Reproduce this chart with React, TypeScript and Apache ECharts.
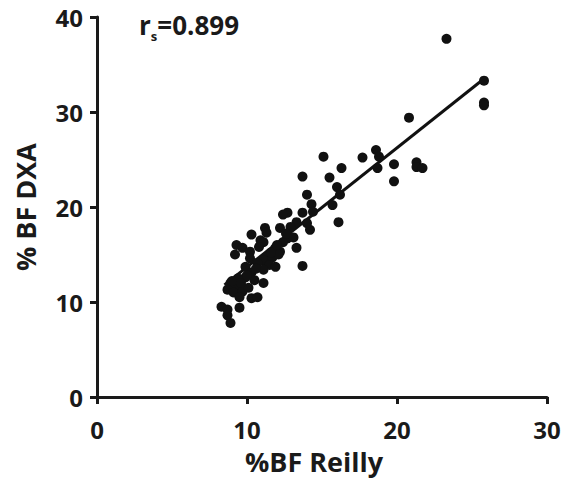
import React, { useEffect, useRef } from "react";
import * as echarts from "echarts";

const reillyBF: number[] = [
  23.3, 25.8, 25.8, 25.8, 20.8, 18.6, 18.8, 18.7, 17.7, 19.8, 19.8, 21.3, 21.3, 21.7,
  15.1, 16.3, 15.5, 16.0, 13.7, 14.0, 16.2,
  14.3, 14.4, 15.7, 16.1, 12.7, 12.4, 13.7, 13.3, 14.2, 14.0, 11.2, 11.3, 12.2, 12.9,
  10.3, 10.9, 11.1, 12.7, 13.1, 12.4, 9.3, 9.7, 9.2, 10.2, 11.9, 12.2, 13.3, 11.3,
  11.1, 11.7, 12.1, 10.2, 9.9, 10.7, 11.5, 11.9, 13.7, 11.1, 10.3, 9.9, 9.4, 10.5,
  11.1, 8.9, 8.7, 9.3, 9.1, 9.7, 10.1, 9.5, 10.3, 10.7, 8.3, 8.7, 9.5, 8.7, 8.9,
  9.0, 9.6, 10.0, 10.6, 11.6, 12.0, 12.6, 10.8,
];
const dxaBF: number[] = [
  37.7, 33.3, 31.0, 30.7, 29.4, 26.0, 25.3, 24.1, 25.2, 24.5, 22.7, 24.7, 24.2, 24.1,
  25.3, 24.1, 23.1, 22.1, 23.2, 21.3, 21.3,
  20.3, 19.5, 20.2, 18.4, 19.4, 19.2, 19.4, 18.4, 17.6, 18.3, 17.8, 17.3, 17.8, 17.9,
  17.1, 16.5, 16.3, 16.7, 16.8, 16.3, 16.0, 15.7, 15.0, 15.3, 15.7, 15.3, 15.7, 14.7,
  14.4, 14.7, 15.0, 14.6, 13.7, 14.1, 13.9, 13.7, 13.8, 13.4, 13.1, 12.6, 12.5, 12.3,
  12.0, 12.0, 11.3, 11.6, 11.0, 11.1, 11.5, 10.5, 10.4, 10.5, 9.5, 9.2, 9.4, 8.6, 7.8,
  12.2, 12.0, 12.8, 13.5, 15.2, 16.0, 17.2, 15.8,
];
const fitX: number[] = [8.5, 25.8];
const fitY: number[] = [11.8, 33.5];
const xTicks = { min: 0, max: 30, interval: 10 };
const yTicks = { min: 0, max: 40, interval: 10 };
const xName = "%BF Reilly";
const yName = "% BF DXA";
const rsValue = "=0.899";

const FONT = "'Open Sans', 'DejaVu Sans', sans-serif";
const INK = "#1a1a1a";

export default function App() {
  const ref = useRef<HTMLDivElement>(null);
  useEffect(() => {
    if (!ref.current) return;
    const chart = echarts.init(ref.current, undefined, { renderer: "svg" });
    const axisCommon = {
      axisLine: { show: true, lineStyle: { color: INK, width: 3 } },
      axisTick: { show: true, inside: false, length: 7, lineStyle: { color: INK, width: 3 } },
      splitLine: { show: false },
    };
    chart.setOption({
      animation: false,
      backgroundColor: "#ffffff",
      grid: { left: 97, right: 25, top: 17, bottom: 93, containLabel: false },
      xAxis: {
        type: "value",
        ...xTicks,
        ...axisCommon,
        name: xName,
        nameLocation: "middle",
        nameGap: 51,
        nameTextStyle: {
          fontFamily: FONT, fontWeight: "bold", fontSize: 27, color: INK,
          padding: [0, 16, 0, 0],
        },
        axisLabel: { fontFamily: FONT, fontWeight: "bold", fontSize: 24, color: INK, margin: 20 },
      },
      yAxis: {
        type: "value",
        ...yTicks,
        ...axisCommon,
        name: yName,
        nameLocation: "middle",
        nameRotate: 90,
        nameGap: 58,
        nameTextStyle: { fontFamily: FONT, fontWeight: "bold", fontSize: 27, color: INK },
        axisLabel: { fontFamily: FONT, fontWeight: "bold", fontSize: 24, color: INK, margin: 14 },
      },
      series: [
        {
          type: "scatter",
          data: reillyBF.map((x, i) => [x, dxaBF[i]]),
          symbol: "circle",
          symbolSize: 10,
          itemStyle: { color: "#111111", opacity: 1 },
          z: 3,
        },
        {
          type: "line",
          data: fitX.map((x, i) => [x, fitY[i]]),
          showSymbol: false,
          symbol: "none",
          lineStyle: { color: "#111111", width: 3 },
          z: 2,
        },
      ],
      graphic: [
        {
          type: "text",
          left: 139,
          top: 12,
          style: {
            text: "{r|r}{s|s}{v|" + rsValue + "}",
            rich: {
              r: { fontFamily: FONT, fontWeight: "bold", fontSize: 26, fill: INK, verticalAlign: "bottom" },
              s: { fontFamily: FONT, fontWeight: "bold", fontSize: 13, fill: INK, verticalAlign: "bottom", padding: [0, 0, -4, 0] },
              v: { fontFamily: FONT, fontWeight: "bold", fontSize: 26, fill: INK, verticalAlign: "bottom" },
            },
          },
        },
      ],
    });
    return () => chart.dispose();
  }, []);
  return <div ref={ref} style={{ width: 572, height: 490, margin: -8 }} />;
}
